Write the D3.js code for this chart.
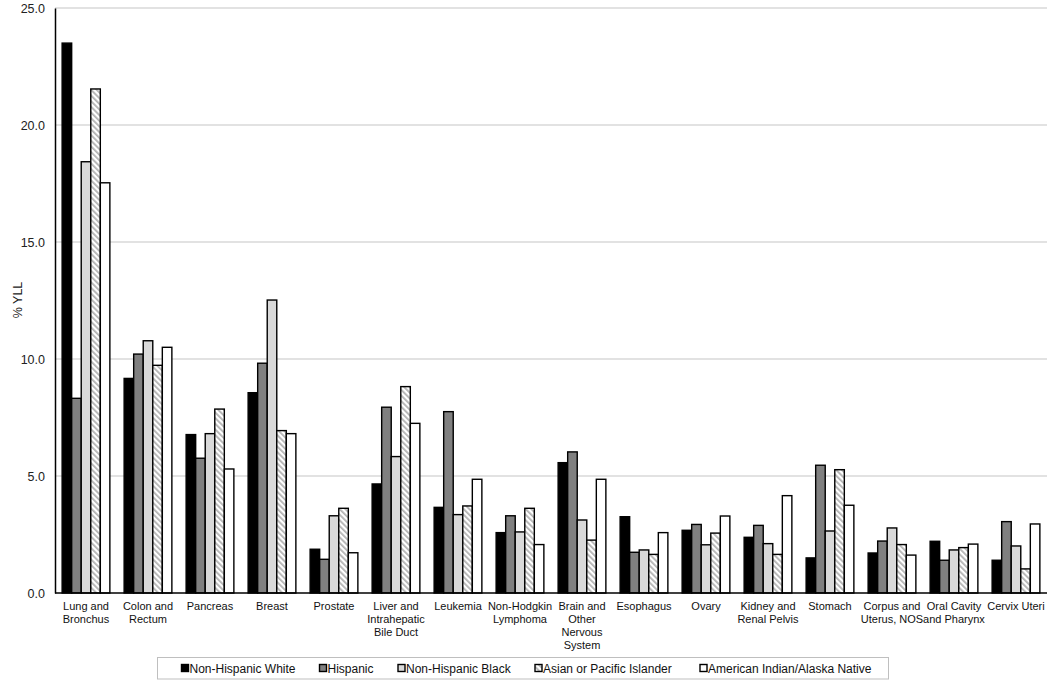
<!DOCTYPE html>
<html><head><meta charset="utf-8">
<script src="https://cdn.jsdelivr.net/npm/d3@7"></script>
<style>body{margin:0;background:#fff}svg{display:block}text{font-family:Arial,"Liberation Sans",sans-serif}</style>
</head><body><svg id="c" width="1050" height="683"></svg>
<script>
const categories = [["Lung and","Bronchus"],["Colon and","Rectum"],["Pancreas"],["Breast"],["Prostate"],["Liver and","Intrahepatic","Bile Duct"],["Leukemia"],["Non-Hodgkin","Lymphoma"],["Brain and","Other","Nervous","System"],["Esophagus"],["Ovary"],["Kidney and","Renal Pelvis"],["Stomach"],["Corpus and","Uterus, NOS"],["Oral Cavity","and Pharynx"],["Cervix Uteri"]];
const seriesNames = ["Non-Hispanic White","Hispanic","Non-Hispanic Black","Asian or Pacific Islander","American Indian/Alaska Native"];
const nhWhite = [23.5,9.17,6.77,8.56,1.87,4.66,3.66,2.58,5.57,3.26,2.68,2.38,1.50,1.71,2.21,1.40];
const hispanic = [8.32,10.21,5.76,9.82,1.44,7.94,7.75,3.30,6.03,1.74,2.93,2.89,5.46,2.22,1.40,3.05];
const nhBlack = [18.43,10.78,6.81,12.52,3.30,5.83,3.35,2.61,3.12,1.84,2.06,2.11,2.65,2.78,1.84,2.01];
const asianPI = [21.54,9.73,7.86,6.94,3.62,8.82,3.72,3.62,2.26,1.65,2.56,1.65,5.27,2.07,1.94,1.03];
const aian = [17.53,10.50,5.30,6.81,1.72,7.25,4.86,2.07,4.86,2.58,3.29,4.16,3.75,1.62,2.09,2.95];
const yTicks = [0,5,10,15,20,25];
const seriesValues = [nhWhite,hispanic,nhBlack,asianPI,aian];
const fills = ["#000","#808080","#d9d9d9","url(#hatch)","#fff"];

const svg = d3.select("#c");
const defs = svg.append("defs");
const pat = defs.append("pattern").attr("id","hatch").attr("patternUnits","userSpaceOnUse")
  .attr("width",4).attr("height",4).attr("patternTransform","rotate(-45)");
pat.append("rect").attr("width",4).attr("height",4).attr("fill","#fff");
pat.append("rect").attr("width",1.8).attr("height",4).attr("fill","#b3b3b3");

const L=55, R=1047, T=8, B=593;
const x = d3.scaleBand().domain(d3.range(categories.length)).range([L,R]).paddingInner(0.23).paddingOuter(0.115);
const x1 = d3.scaleBand().domain(d3.range(5)).range([0,x.bandwidth()]);
const y = d3.scaleLinear().domain([0,25]).range([B,T]);

// gridlines
svg.append("g").selectAll("line").data(yTicks.filter(d=>d>0)).join("line")
  .attr("x1",L).attr("x2",R).attr("y1",d=>y(d)).attr("y2",d=>y(d))
  .attr("stroke","#d9d9d9").attr("stroke-width",1.5);

// y axis
const ya = svg.append("g").attr("transform",`translate(${L},0)`)
  .call(d3.axisLeft(y).tickValues(yTicks).tickFormat(d3.format(".1f")).tickSize(0).tickPadding(10));
ya.select(".domain").attr("stroke","#000").attr("stroke-width",1.5);
ya.selectAll("text").attr("font-size",12.5).attr("fill","#222").style("font-family","Arial, 'Liberation Sans', sans-serif");

// bars
const groups = svg.append("g").selectAll("g").data(categories.map((c,i)=>i)).join("g")
  .attr("transform",i=>`translate(${x(i)},0)`);
groups.selectAll("rect").data(i=>seriesValues.map((s,k)=>({k,v:s[i]}))).join("rect")
  .attr("x",d=>x1(d.k)).attr("width",x1.bandwidth())
  .attr("y",d=>y(d.v)).attr("height",d=>B-y(d.v))
  .attr("fill",d=>fills[d.k]).attr("stroke","#000").attr("stroke-width",1.4);

// baseline
svg.append("line").attr("x1",L).attr("x2",R).attr("y1",B).attr("y2",B).attr("stroke","#000").attr("stroke-width",1.5);

// category labels
const cl = svg.append("g").selectAll("text").data(categories).join("text")
  .attr("x",(d,i)=>x(i)+x.bandwidth()/2).attr("y",610).attr("text-anchor","middle")
  .attr("font-size",11).attr("fill","#111");
cl.selectAll("tspan").data(d=>d).join("tspan")
  .attr("x",function(){return this.parentNode.getAttribute("x");})
  .attr("dy",(d,j)=>j===0?0:13).text(d=>d);

// y label
svg.append("text").attr("transform","translate(22,300) rotate(-90)").attr("text-anchor","middle")
  .attr("font-size",12.5).attr("fill","#222").text("% YLL");

// legend
svg.append("rect").attr("x",157.5).attr("y",657.5).attr("width",731).attr("height",21.5)
  .attr("fill","#fff").attr("stroke","#bfbfbf");
const lx = [181.5,319.5,398,535,700];
const lg = svg.append("g").selectAll("g").data(seriesNames).join("g")
  .attr("transform",(d,i)=>`translate(${lx[i]},668)`);
lg.append("rect").attr("x",0).attr("y",-3.5).attr("width",7).attr("height",7)
  .attr("fill",(d,i)=>fills[i]).attr("stroke","#000").attr("stroke-width",1.4);
lg.append("text").attr("x",8).attr("y",4.5).attr("font-size",12).attr("fill","#111").text(d=>d);
</script></body></html>
